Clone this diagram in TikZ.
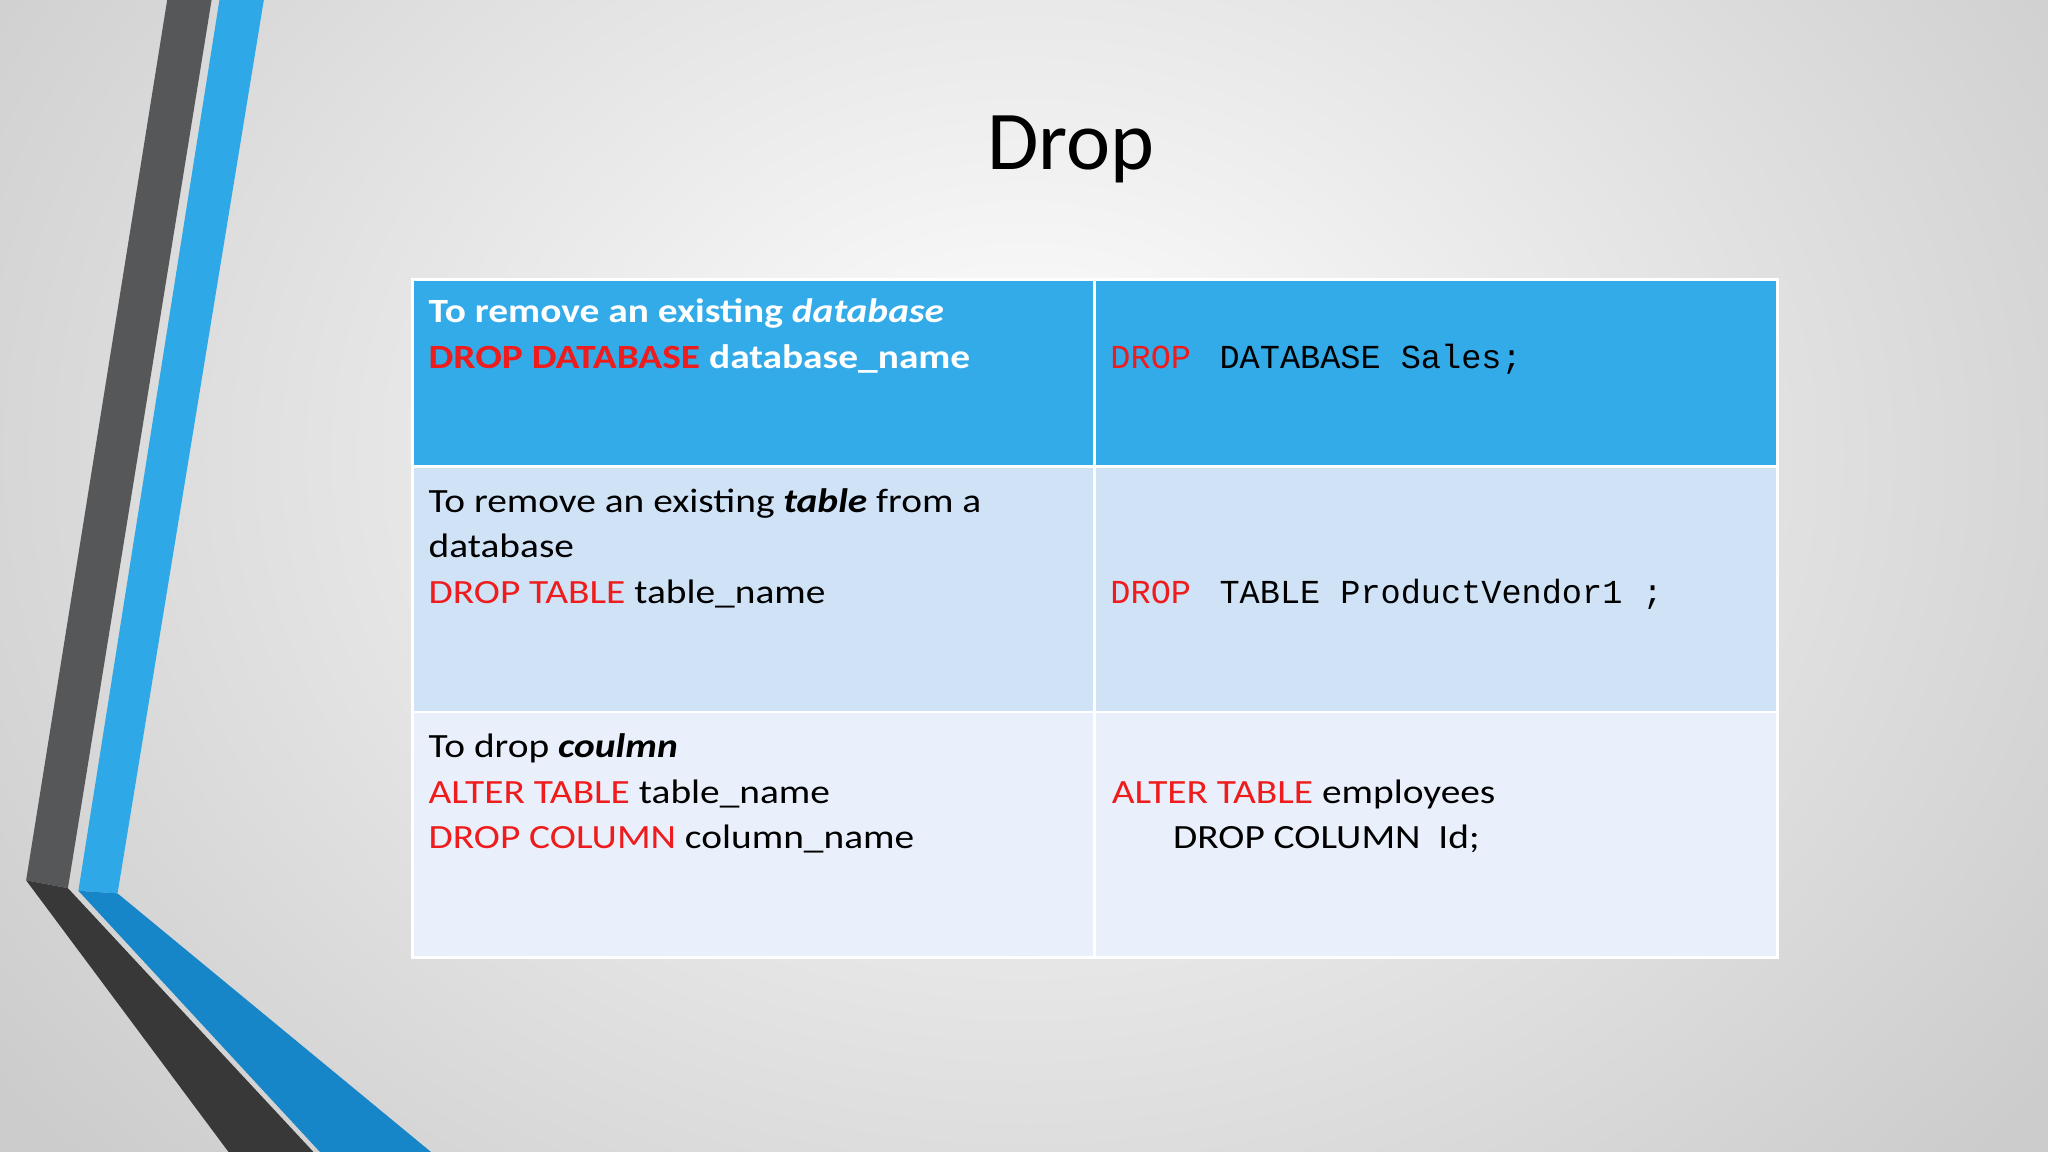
\documentclass[tikz,border=0pt]{standalone}
\usepackage{fontspec}
\setmainfont{Carlito}[FakeStretch=1.16]
\newfontfamily\titlefont{Carlito}
\setmonofont{Liberation Mono}
\definecolor{hdr}{HTML}{33ABE9}
\definecolor{rowa}{HTML}{CFE2F6}
\definecolor{rowb}{HTML}{E9F0FB}
\definecolor{kw}{HTML}{EE1C1C}
\definecolor{dgray}{HTML}{555759}
\definecolor{dblue}{HTML}{2EA8E6}
\definecolor{lblue}{HTML}{1686C9}
\begin{document}
\begin{tikzpicture}[x=1pt,y=-1pt,
  txt/.style={anchor=base west,inner sep=0pt,font=\fontsize{26}{35}\selectfont},
  mono/.style={anchor=base west,inner sep=0pt,font=\ttfamily\fontsize{25.7}{35}\selectfont},
  cell/.style={draw=white,line width=2pt}]
\useasboundingbox (0,0) rectangle (1568,882);
\shade[inner color=white,outer color=gray!40] (-200,-450) rectangle (1768,1150);
% left decoration
\fill[dgray] (128,0) -- (162,0) -- (52,680) -- (20,674) -- cycle;
\fill[black!78] (20,674) -- (52,680) -- (240,882) -- (175,882) -- cycle;
\fill[dblue] (168,0) -- (202,0) -- (90,684) -- (60,682) -- cycle;
\fill[lblue] (60,682) -- (90,684) -- (330,882) -- (245,882) -- cycle;
% table
\fill[hdr] (316,214) rectangle (1361,356);
\fill[rowa] (316,357) rectangle (1361,545);
\fill[rowb] (316,545) rectangle (1361,733);
\draw[cell] (316,214) rectangle (1361,733);
\draw[cell] (316,357) -- (1361,357) (316,545) -- (1361,545) (838,214) -- (838,733);
\node[anchor=base,inner sep=0pt,font=\titlefont\fontsize{64}{70}\selectfont] (title) at (820,130) {Drop};
\node[txt,text=white,font=\bfseries\fontsize{26}{35}\selectfont] (a1) at (328,247) {To remove an existing \textit{database}};
\node[txt,text=white,font=\bfseries\fontsize{26}{35}\selectfont] (a2) at (328,282) {\textcolor{kw}{DROP DATABASE} database\_name};
\node[mono] (b1) at (850,282) {\textcolor{kw}{DROP}\hspace{0.25em} DATABASE Sales;};
\node[txt] (c1) at (328,392) {To remove an existing \textbf{\textit{table}} from a};
\node[txt] (c2) at (328,427) {database};
\node[txt] (c3) at (328,462) {\textcolor{kw}{DROP TABLE} table\_name};
\node[mono] (d1) at (850,462) {\textcolor{kw}{DROP}\hspace{0.25em} TABLE ProductVendor1 ;};
\node[txt] (e1) at (328,580) {To drop \textbf{\textit{coulmn}}};
\node[txt] (e2) at (328,615) {\textcolor{kw}{ALTER TABLE} table\_name};
\node[txt] (e3) at (328,650) {\textcolor{kw}{DROP COLUMN} column\_name};
\node[txt] (f1) at (851,615) {\textcolor{kw}{ALTER TABLE} employees};
\node[txt] (f2) at (898,650) {DROP COLUMN \ Id;};
\end{tikzpicture}
\end{document}
